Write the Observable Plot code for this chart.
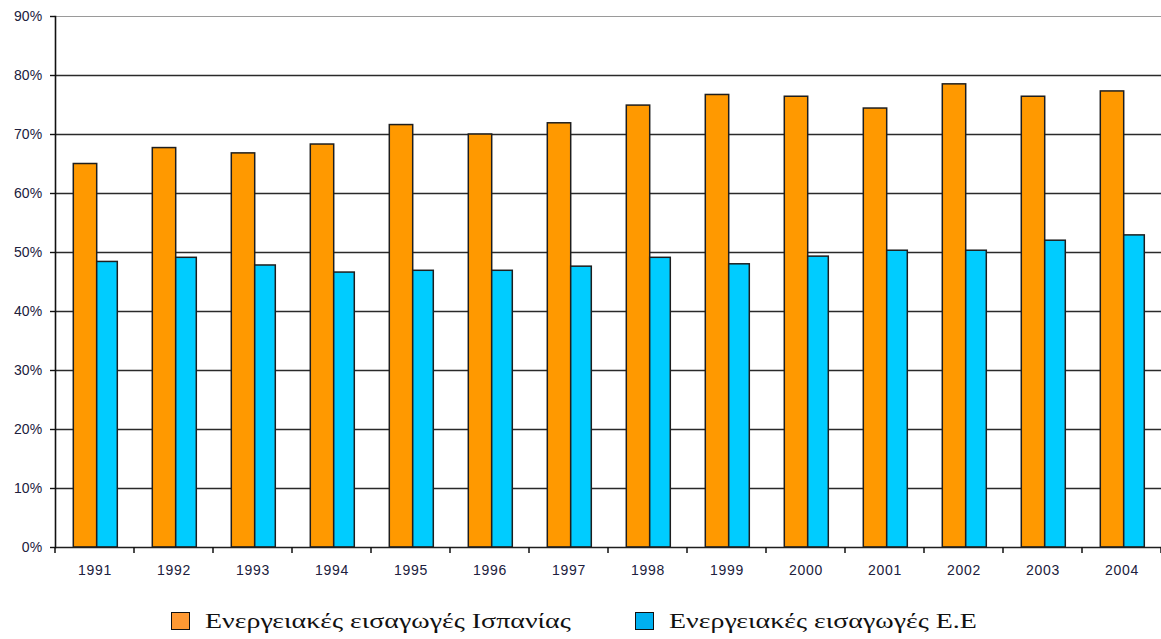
<!DOCTYPE html>
<html>
<head>
<meta charset="utf-8">
<script src="https://cdn.jsdelivr.net/npm/d3@7"></script>
<script src="https://cdn.jsdelivr.net/npm/@observablehq/plot@0.6"></script>
<style>
  html, body { margin: 0; padding: 0; background: #fff; }
  body { width: 1161px; height: 639px; overflow: hidden; position: relative; }
  #chart svg { display: block; }
  #chart svg g[aria-label="x-axis tick label"] text { font-size: 14px; letter-spacing: 0.7px; }
  #chart svg g[aria-label="y-axis tick label"] text { font-size: 14px; letter-spacing: 0.2px; }
  .legend-item {
    position: absolute; display: flex; align-items: center;
    font-family: "Liberation Serif", "Times New Roman", serif;
    font-size: 22px; color: #111; line-height: 1; white-space: nowrap;
  }
  .legend-item span { display: inline-block; transform: scaleX(1.27); transform-origin: left center; }
  .swatch { width: 17px; height: 16px; border: 1.5px solid #111; margin-right: 15px; flex: none; }
</style>
</head>
<body>
<div id="chart"></div>
<div id="legend"></div>
<script>
// Energy imports as a share of consumption, 1991–2004 (%)
const years = [1991, 1992, 1993, 1994, 1995, 1996, 1997, 1998, 1999, 2000, 2001, 2002, 2003, 2004];
const spainImports = [65.0, 67.7, 66.8, 68.3, 71.6, 70.0, 71.9, 74.9, 76.7, 76.4, 74.4, 78.5, 76.4, 77.3];
const euImports    = [48.4, 49.1, 47.8, 46.6, 46.9, 46.9, 47.6, 49.1, 48.0, 49.3, 50.3, 50.3, 52.0, 52.9];
const yTicks = [0, 10, 20, 30, 40, 50, 60, 70, 80, 90];
const seriesNames = ["Ενεργειακές εισαγωγές Ισπανίας", "Ενεργειακές εισαγωγές Ε.Ε"];
const barColors = ["#FF9900", "#00CCFF"];
const swatchColors = ["#FF9933", "#00B0F0"];

const rows = years.map((y, i) => ({year: String(y), spain: spainImports[i], eu: euImports[i]}));

const W = 1161, H = 590, ML = 55, MR = 0, MT = 16, MB = 43;
const band = (W - ML - MR) / years.length;
const barStroke = "#1e1e1e";
const textColor = "#20203c";

const plot = Plot.plot({
  width: W,
  height: H,
  marginLeft: ML,
  marginRight: MR,
  marginTop: MT,
  marginBottom: MB,
  style: {fontFamily: "'Liberation Sans', Arial, sans-serif", fontSize: "14px", color: textColor, background: "#fff"},
  x: {domain: rows.map(d => d.year), padding: 0, round: false, label: null},
  y: {domain: [0, 90], label: null},
  marks: [
    // horizontal gridlines; the top one is the lighter plot border
    Plot.ruleY(yTicks.filter(t => t > 0 && t < 90), {stroke: "#2a2a2a", strokeWidth: 1.5}),
    Plot.ruleY(yTicks.filter(t => t === 90), {stroke: "#9a9a9a", strokeWidth: 1.2}),
    Plot.barY(rows, {x: "year", y: "spain", fill: barColors[0], stroke: barStroke, strokeWidth: 1.5,
      insetLeft: 18.3, insetRight: band - 41.7}),
    Plot.barY(rows, {x: "year", y: "eu", fill: barColors[1], stroke: barStroke, strokeWidth: 1.5,
      insetLeft: 41.7, insetRight: band - 62.3}),
    Plot.ruleY([0], {stroke: "#1e1e1e", strokeWidth: 1.6}),
    Plot.frame({anchor: "left", stroke: "#111", strokeWidth: 1.6}),
    Plot.axisY({ticks: yTicks, tickFormat: d => d + "%", tickSize: 5, tickPadding: 8, stroke: "#111", strokeWidth: 1.4,
      label: null, ariaLabel: "y-axis"}),
    Plot.axisX({tickSize: 0, tickPadding: 18, label: null, ariaLabel: "x-axis"})
  ]
});

document.getElementById("chart").appendChild(plot);

// category boundary ticks below the horizontal axis
const sx = plot.scale("x");
const sy = plot.scale("y");
const y0 = sy.apply(0);
const bounds = years.map(y => sx.apply(String(y)));
bounds.push(sx.apply(String(years[years.length - 1])) + sx.bandwidth);
d3.select(plot).append("g")
  .attr("stroke", "#111").attr("stroke-width", 1.5)
  .selectAll("line").data(bounds).join("line")
  .attr("x1", d => d).attr("x2", d => d)
  .attr("y1", y0).attr("y2", y0 + 6);

// axis tick labels at the larger size
d3.select(plot).selectAll("text").attr("font-size", null);
d3.select(plot).selectAll("g").filter(function () { return this.getAttribute("font-size"); })
  .attr("font-size", 14);

// legend under the chart
const legendLeft = [171, 635];
const legend = d3.select("#legend");
seriesNames.forEach((name, i) => {
  const item = legend.append("div").attr("class", "legend-item")
    .style("left", legendLeft[i] + "px").style("top", "609px").style("height", "24px");
  item.append("div").attr("class", "swatch").style("background", swatchColors[i]);
  item.append("span").text(name);
});
</script>
</body>
</html>
